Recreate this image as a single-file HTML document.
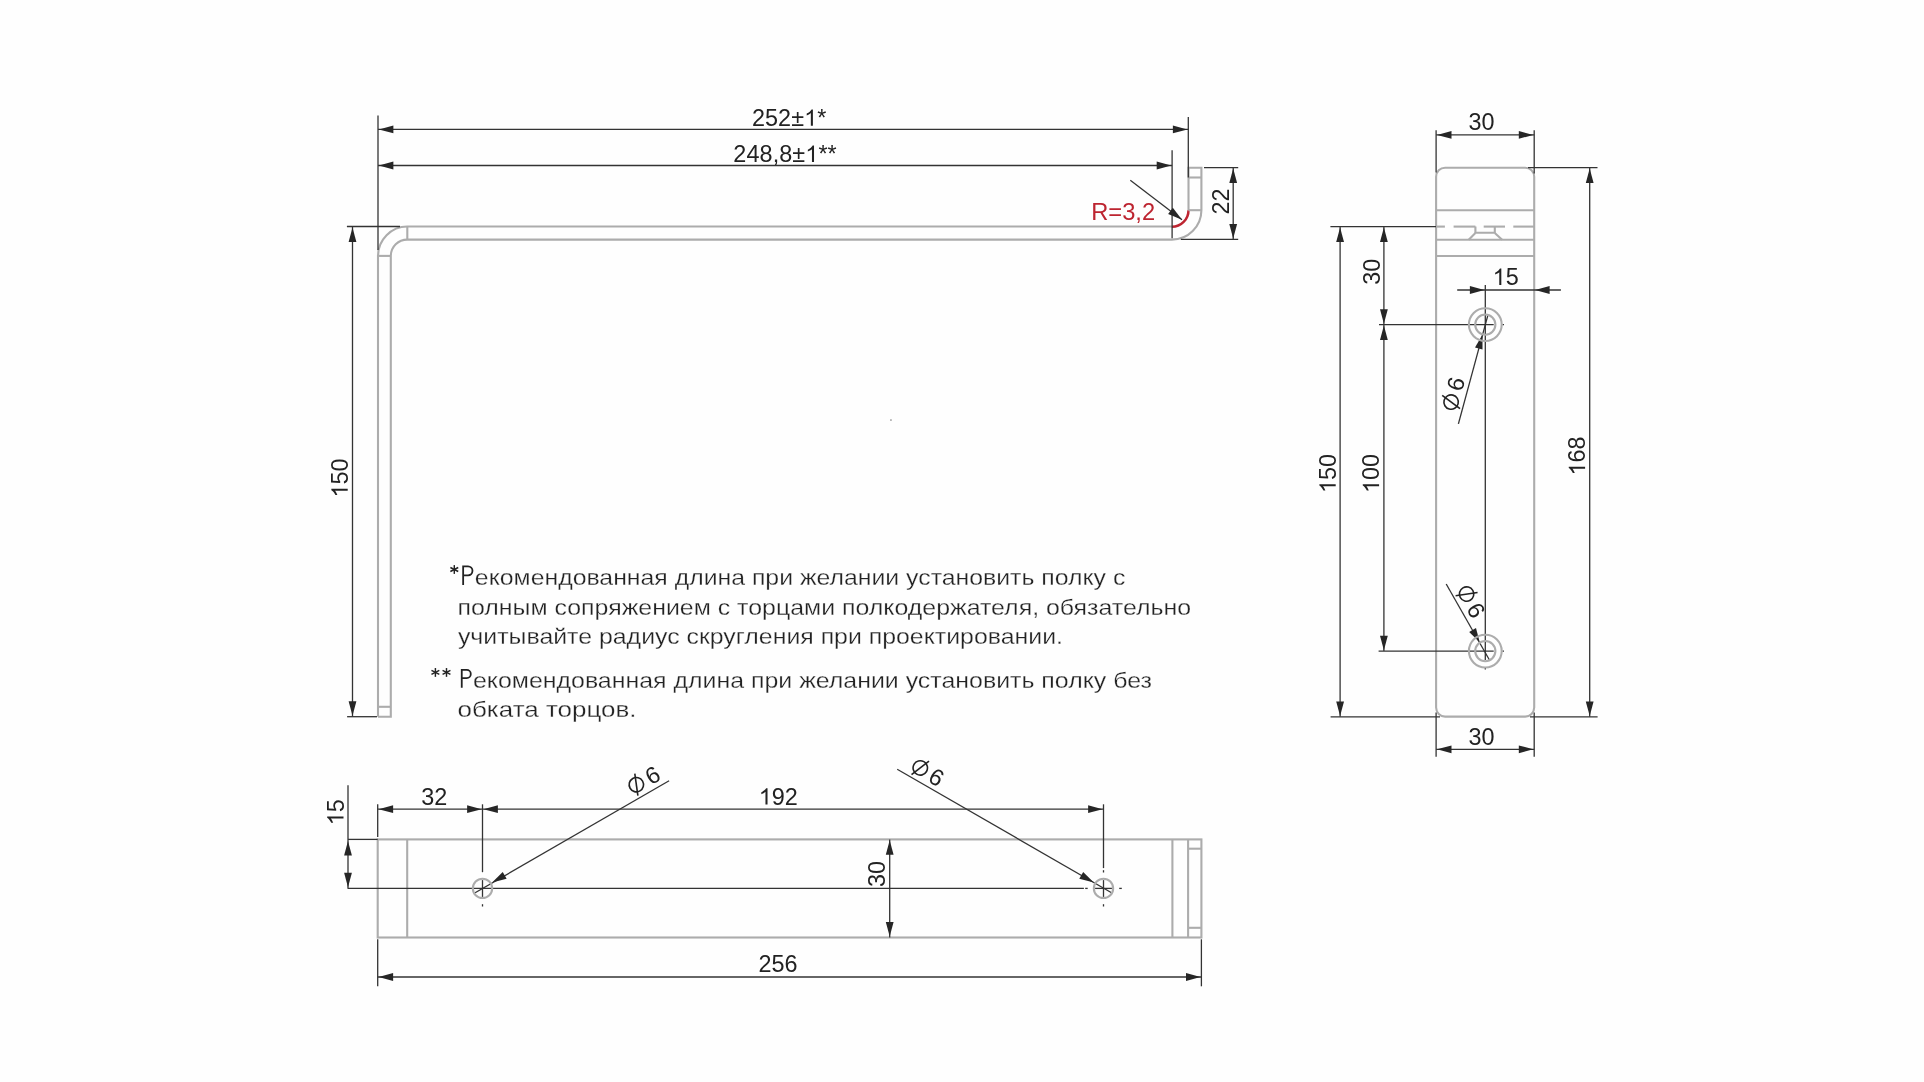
<!DOCTYPE html>
<html><head><meta charset="utf-8"><style>
html,body{margin:0;padding:0;background:#fefefe;}
svg{display:block;font-family:"Liberation Sans",sans-serif;will-change:transform;}
</style></head><body>
<svg width="1924" height="1082" viewBox="0 0 1924 1082">
<rect width="1924" height="1082" fill="#fefefe"/>
<path d="M378.0,716.7 L378.0,255.9 A29.4,29.4 0 0 1 407.3,226.5 L1171.9,226.5" fill="none" stroke="#acacac" stroke-width="2.1"/>
<path d="M1188.5,210.2 L1188.5,167.7 L1201.4,167.7 L1201.4,210.2 A29.5,29.5 0 0 1 1171.9,239.6 L407.3,239.6 A16.5,16.5 0 0 0 390.8,255.9 L390.8,716.7 L378.0,716.7" fill="none" stroke="#acacac" stroke-width="2.1"/>
<path d="M1171.9,226.8 A16.6,16.6 0 0 0 1188.5,210.2" fill="none" stroke="#bd2430" stroke-width="2.5"/>
<line x1="407.30" y1="226.50" x2="407.30" y2="239.60" stroke="#acacac" stroke-width="2.1"/>
<line x1="378.00" y1="255.90" x2="390.80" y2="255.90" stroke="#acacac" stroke-width="2.1"/>
<line x1="378.00" y1="706.80" x2="390.80" y2="706.80" stroke="#acacac" stroke-width="2.1"/>
<line x1="1188.50" y1="177.50" x2="1201.40" y2="177.50" stroke="#acacac" stroke-width="2.1"/>
<line x1="1188.50" y1="210.20" x2="1201.40" y2="210.20" stroke="#acacac" stroke-width="2.1"/>
<line x1="378.00" y1="115.50" x2="378.00" y2="250.00" stroke="#333333" stroke-width="1.3"/>
<line x1="1188.30" y1="117.00" x2="1188.30" y2="177.50" stroke="#333333" stroke-width="1.3"/>
<line x1="1172.10" y1="150.30" x2="1172.10" y2="238.30" stroke="#333333" stroke-width="1.3"/>
<line x1="378.00" y1="129.40" x2="1188.30" y2="129.40" stroke="#333333" stroke-width="1.3"/>
<polygon points="378.90,129.40 393.40,125.50 393.40,133.30" fill="#262626"/>
<polygon points="1187.40,129.40 1172.90,133.30 1172.90,125.50" fill="#262626"/>
<line x1="378.00" y1="165.50" x2="1172.10" y2="165.50" stroke="#333333" stroke-width="1.3"/>
<polygon points="378.90,165.50 393.40,161.60 393.40,169.40" fill="#262626"/>
<polygon points="1171.20,165.50 1156.70,169.40 1156.70,161.60" fill="#262626"/>
<line x1="1204.00" y1="167.70" x2="1238.20" y2="167.70" stroke="#333333" stroke-width="1.3"/>
<line x1="1180.80" y1="239.40" x2="1238.20" y2="239.40" stroke="#333333" stroke-width="1.3"/>
<line x1="1233.20" y1="167.70" x2="1233.20" y2="239.40" stroke="#333333" stroke-width="1.3"/>
<polygon points="1233.20,168.60 1237.10,183.10 1229.30,183.10" fill="#262626"/>
<polygon points="1233.20,238.50 1229.30,224.00 1237.10,224.00" fill="#262626"/>
<line x1="346.90" y1="226.50" x2="400.00" y2="226.50" stroke="#333333" stroke-width="1.3"/>
<line x1="347.10" y1="716.70" x2="377.00" y2="716.70" stroke="#333333" stroke-width="1.3"/>
<line x1="352.50" y1="226.50" x2="352.50" y2="716.70" stroke="#333333" stroke-width="1.3"/>
<polygon points="352.50,227.40 356.40,241.90 348.60,241.90" fill="#262626"/>
<polygon points="352.50,715.80 348.60,701.30 356.40,701.30" fill="#262626"/>
<line x1="1130.30" y1="180.30" x2="1182.00" y2="219.70" stroke="#333333" stroke-width="1.3"/>
<polygon points="1182.00,219.70 1168.10,214.01 1172.83,207.81" fill="#262626"/>
<g transform="translate(751.90,125.80)"><text x="0.00" y="0" font-size="23.4" fill="#222222" letter-spacing="0.1">252±</text><path transform="translate(52.28,0) scale(0.011426,-0.011426)" d="M763,0 L583,0 L583,1114 Q518,1054 412,994 Q306,934 222,903 L222,1073 Q373,1142 486,1240 Q599,1338 646,1430 L763,1430 Z" fill="#222222"/><text x="65.40" y="0" font-size="23.4" fill="#222222" letter-spacing="0.1">*</text></g>
<g transform="translate(733.30,161.90)"><text x="0.00" y="0" font-size="23.4" fill="#222222" letter-spacing="0.1">248,8±</text><path transform="translate(72.00,0) scale(0.011426,-0.011426)" d="M763,0 L583,0 L583,1114 Q518,1054 412,994 Q306,934 222,903 L222,1073 Q373,1142 486,1240 Q599,1338 646,1430 L763,1430 Z" fill="#222222"/><text x="85.11" y="0" font-size="23.4" fill="#222222" letter-spacing="0.1">**</text></g>
<g transform="translate(1228.60,201.60) rotate(-90)"><text x="-13.01" y="0" font-size="23.4" fill="#222222">22</text></g>
<g transform="translate(347.70,477.20) rotate(-90)"><path transform="translate(-20.33,0) scale(0.011426,-0.011426)" d="M763,0 L583,0 L583,1114 Q518,1054 412,994 Q306,934 222,903 L222,1073 Q373,1142 486,1240 Q599,1338 646,1430 L763,1430 Z" fill="#222222"/><text x="-7.32" y="0" font-size="23.4" fill="#222222">50</text></g>
<g transform="translate(1091.20,219.70)"><text x="0.00" y="0" font-size="23.7" fill="#bd2430">R=3,2</text></g>
<rect x="1436.1" y="167.7" width="98.10" height="548.90" rx="9" ry="9" fill="none" stroke="#acacac" stroke-width="2.1"/>
<line x1="1436.10" y1="210.30" x2="1534.20" y2="210.30" stroke="#acacac" stroke-width="2.1"/>
<line x1="1436.10" y1="239.70" x2="1534.20" y2="239.70" stroke="#acacac" stroke-width="2.1"/>
<line x1="1436.10" y1="256.00" x2="1534.20" y2="256.00" stroke="#acacac" stroke-width="2.1"/>
<line x1="1436.20" y1="226.60" x2="1444.90" y2="226.60" stroke="#acacac" stroke-width="2.1"/>
<line x1="1453.60" y1="226.60" x2="1475.40" y2="226.60" stroke="#acacac" stroke-width="2.1"/>
<line x1="1483.70" y1="226.60" x2="1505.00" y2="226.60" stroke="#acacac" stroke-width="2.1"/>
<line x1="1513.30" y1="226.60" x2="1534.10" y2="226.60" stroke="#acacac" stroke-width="2.1"/>
<path d="M1475.4,226.6 L1475.4,232.8 L1494.8,232.8 L1494.8,226.6" fill="none" stroke="#acacac" stroke-width="2.1"/>
<line x1="1475.40" y1="233.00" x2="1468.70" y2="239.70" stroke="#acacac" stroke-width="2.1"/>
<line x1="1494.80" y1="233.00" x2="1502.10" y2="239.70" stroke="#acacac" stroke-width="2.1"/>
<line x1="1436.10" y1="130.20" x2="1436.10" y2="172.50" stroke="#333333" stroke-width="1.3"/>
<line x1="1534.20" y1="130.20" x2="1534.20" y2="173.50" stroke="#333333" stroke-width="1.3"/>
<line x1="1436.10" y1="134.90" x2="1534.20" y2="134.90" stroke="#333333" stroke-width="1.3"/>
<polygon points="1437.00,134.90 1451.50,131.00 1451.50,138.80" fill="#262626"/>
<polygon points="1533.30,134.90 1518.80,138.80 1518.80,131.00" fill="#262626"/>
<g transform="translate(1481.50,130.30)"><text x="-13.00" y="0" font-size="23.4" fill="#222222">30</text></g>
<line x1="1528.00" y1="167.70" x2="1597.50" y2="167.70" stroke="#333333" stroke-width="1.3"/>
<line x1="1530.00" y1="716.80" x2="1597.60" y2="716.80" stroke="#333333" stroke-width="1.3"/>
<line x1="1330.60" y1="716.80" x2="1440.00" y2="716.80" stroke="#333333" stroke-width="1.3"/>
<line x1="1589.70" y1="167.70" x2="1589.70" y2="716.80" stroke="#333333" stroke-width="1.3"/>
<polygon points="1589.70,168.60 1593.60,183.10 1585.80,183.10" fill="#262626"/>
<polygon points="1589.70,715.90 1585.80,701.40 1593.60,701.40" fill="#262626"/>
<g transform="translate(1585.10,455.20) rotate(-90)"><path transform="translate(-20.28,0) scale(0.011426,-0.011426)" d="M763,0 L583,0 L583,1114 Q518,1054 412,994 Q306,934 222,903 L222,1073 Q373,1142 486,1240 Q599,1338 646,1430 L763,1430 Z" fill="#222222"/><text x="-7.27" y="0" font-size="23.4" fill="#222222">68</text></g>
<line x1="1330.40" y1="226.60" x2="1436.00" y2="226.60" stroke="#333333" stroke-width="1.3"/>
<line x1="1340.10" y1="226.60" x2="1340.10" y2="716.80" stroke="#333333" stroke-width="1.3"/>
<polygon points="1340.10,227.50 1344.00,242.00 1336.20,242.00" fill="#262626"/>
<polygon points="1340.10,715.90 1336.20,701.40 1344.00,701.40" fill="#262626"/>
<g transform="translate(1335.70,472.60) rotate(-90)"><path transform="translate(-20.33,0) scale(0.011426,-0.011426)" d="M763,0 L583,0 L583,1114 Q518,1054 412,994 Q306,934 222,903 L222,1073 Q373,1142 486,1240 Q599,1338 646,1430 L763,1430 Z" fill="#222222"/><text x="-7.32" y="0" font-size="23.4" fill="#222222">50</text></g>
<line x1="1383.90" y1="226.60" x2="1383.90" y2="324.60" stroke="#333333" stroke-width="1.3"/>
<polygon points="1383.90,227.50 1387.80,242.00 1380.00,242.00" fill="#262626"/>
<polygon points="1383.90,323.70 1380.00,309.20 1387.80,309.20" fill="#262626"/>
<g transform="translate(1379.80,271.70) rotate(-90)"><text x="-13.00" y="0" font-size="23.4" fill="#222222">30</text></g>
<line x1="1379.00" y1="324.60" x2="1493.70" y2="324.60" stroke="#333333" stroke-width="1.3"/>
<line x1="1502.50" y1="324.60" x2="1504.00" y2="324.60" stroke="#333333" stroke-width="1.3"/>
<line x1="1383.90" y1="324.60" x2="1383.90" y2="651.10" stroke="#333333" stroke-width="1.3"/>
<polygon points="1383.90,325.50 1387.80,340.00 1380.00,340.00" fill="#262626"/>
<polygon points="1383.90,650.20 1380.00,635.70 1387.80,635.70" fill="#262626"/>
<g transform="translate(1379.10,472.60) rotate(-90)"><path transform="translate(-20.33,0) scale(0.011426,-0.011426)" d="M763,0 L583,0 L583,1114 Q518,1054 412,994 Q306,934 222,903 L222,1073 Q373,1142 486,1240 Q599,1338 646,1430 L763,1430 Z" fill="#222222"/><text x="-7.32" y="0" font-size="23.4" fill="#222222">00</text></g>
<line x1="1378.60" y1="651.10" x2="1493.70" y2="651.10" stroke="#333333" stroke-width="1.3"/>
<line x1="1502.50" y1="651.10" x2="1504.00" y2="651.10" stroke="#333333" stroke-width="1.3"/>
<line x1="1485.30" y1="284.90" x2="1485.30" y2="660.00" stroke="#333333" stroke-width="1.3"/>
<line x1="1485.30" y1="667.00" x2="1485.30" y2="669.50" stroke="#333333" stroke-width="1.3"/>
<line x1="1457.20" y1="290.00" x2="1560.90" y2="290.00" stroke="#333333" stroke-width="1.3"/>
<polygon points="1484.40,290.00 1469.90,293.90 1469.90,286.10" fill="#262626"/>
<polygon points="1535.10,290.00 1549.60,286.10 1549.60,293.90" fill="#262626"/>
<g transform="translate(1506.40,284.90)"><path transform="translate(-13.79,0) scale(0.011426,-0.011426)" d="M763,0 L583,0 L583,1114 Q518,1054 412,994 Q306,934 222,903 L222,1073 Q373,1142 486,1240 Q599,1338 646,1430 L763,1430 Z" fill="#222222"/><text x="-0.78" y="0" font-size="23.4" fill="#222222">5</text></g>
<line x1="1436.10" y1="712.50" x2="1436.10" y2="756.70" stroke="#333333" stroke-width="1.3"/>
<line x1="1534.20" y1="712.50" x2="1534.20" y2="756.70" stroke="#333333" stroke-width="1.3"/>
<line x1="1436.10" y1="749.30" x2="1534.20" y2="749.30" stroke="#333333" stroke-width="1.3"/>
<polygon points="1437.00,749.30 1451.50,745.40 1451.50,753.20" fill="#262626"/>
<polygon points="1533.30,749.30 1518.80,753.20 1518.80,745.40" fill="#262626"/>
<g transform="translate(1481.40,744.60)"><text x="-13.00" y="0" font-size="23.4" fill="#222222">30</text></g>
<line x1="1458.40" y1="423.80" x2="1487.70" y2="315.90" stroke="#333333" stroke-width="1.3"/>
<polygon points="1482.55,334.50 1482.53,349.52 1475.00,347.48" fill="#262626"/>
<line x1="1446.20" y1="584.00" x2="1489.60" y2="660.20" stroke="#333333" stroke-width="1.3"/>
<polygon points="1479.80,642.60 1469.20,631.96 1475.97,628.08" fill="#262626"/>
<circle cx="1485.3" cy="324.6" r="16.4" fill="none" stroke="#acacac" stroke-width="2.1"/>
<circle cx="1485.3" cy="324.6" r="10.1" fill="none" stroke="#acacac" stroke-width="2.1"/>
<circle cx="1485.3" cy="651.1" r="16.4" fill="none" stroke="#acacac" stroke-width="2.1"/>
<circle cx="1485.3" cy="651.1" r="10.1" fill="none" stroke="#acacac" stroke-width="2.1"/>
<rect x="377.7" y="839.4" width="823.70" height="98.10" fill="none" stroke="#acacac" stroke-width="2.1"/>
<line x1="407.20" y1="839.40" x2="407.20" y2="937.50" stroke="#acacac" stroke-width="2.1"/>
<line x1="1172.40" y1="839.40" x2="1172.40" y2="937.50" stroke="#acacac" stroke-width="2.1"/>
<line x1="1188.10" y1="839.40" x2="1188.10" y2="937.50" stroke="#acacac" stroke-width="2.1"/>
<line x1="1188.10" y1="848.70" x2="1201.40" y2="848.70" stroke="#acacac" stroke-width="2.1"/>
<line x1="1188.10" y1="927.80" x2="1201.40" y2="927.80" stroke="#acacac" stroke-width="2.1"/>
<line x1="347.70" y1="888.40" x2="1083.90" y2="888.40" stroke="#333333" stroke-width="1.3"/>
<line x1="1085.20" y1="888.40" x2="1087.70" y2="888.40" stroke="#333333" stroke-width="1.3"/>
<line x1="1095.10" y1="888.40" x2="1111.90" y2="888.40" stroke="#333333" stroke-width="1.3"/>
<line x1="1119.20" y1="888.40" x2="1121.80" y2="888.40" stroke="#333333" stroke-width="1.3"/>
<line x1="482.50" y1="804.30" x2="482.50" y2="872.20" stroke="#333333" stroke-width="1.3"/>
<line x1="1103.50" y1="804.30" x2="1103.50" y2="868.10" stroke="#333333" stroke-width="1.3"/>
<line x1="1103.50" y1="870.20" x2="1103.50" y2="872.50" stroke="#333333" stroke-width="1.3"/>
<line x1="482.50" y1="880.10" x2="482.50" y2="896.90" stroke="#333333" stroke-width="1.3"/>
<line x1="482.50" y1="904.20" x2="482.50" y2="906.50" stroke="#333333" stroke-width="1.3"/>
<line x1="1103.50" y1="880.10" x2="1103.50" y2="896.90" stroke="#333333" stroke-width="1.3"/>
<line x1="1103.50" y1="904.20" x2="1103.50" y2="906.50" stroke="#333333" stroke-width="1.3"/>
<line x1="348.00" y1="785.30" x2="348.00" y2="888.40" stroke="#333333" stroke-width="1.3"/>
<polygon points="348.00,840.90 351.90,855.40 344.10,855.40" fill="#262626"/>
<polygon points="348.00,887.20 344.10,872.70 351.90,872.70" fill="#262626"/>
<line x1="348.00" y1="839.40" x2="377.70" y2="839.40" stroke="#333333" stroke-width="1.3"/>
<g transform="translate(343.50,811.40) rotate(-90)"><path transform="translate(-13.79,0) scale(0.011426,-0.011426)" d="M763,0 L583,0 L583,1114 Q518,1054 412,994 Q306,934 222,903 L222,1073 Q373,1142 486,1240 Q599,1338 646,1430 L763,1430 Z" fill="#222222"/><text x="-0.78" y="0" font-size="23.4" fill="#222222">5</text></g>
<line x1="377.70" y1="804.30" x2="377.70" y2="836.90" stroke="#333333" stroke-width="1.3"/>
<line x1="377.70" y1="809.20" x2="482.50" y2="809.20" stroke="#333333" stroke-width="1.3"/>
<polygon points="378.60,809.20 393.10,805.30 393.10,813.10" fill="#262626"/>
<polygon points="481.60,809.20 467.10,813.10 467.10,805.30" fill="#262626"/>
<line x1="482.50" y1="809.20" x2="1103.50" y2="809.20" stroke="#333333" stroke-width="1.3"/>
<polygon points="483.40,809.20 497.90,805.30 497.90,813.10" fill="#262626"/>
<polygon points="1102.60,809.20 1088.10,813.10 1088.10,805.30" fill="#262626"/>
<g transform="translate(434.20,804.50)"><text x="-12.87" y="0" font-size="23.4" fill="#222222">32</text></g>
<g transform="translate(779.00,804.50)"><path transform="translate(-20.20,0) scale(0.011426,-0.011426)" d="M763,0 L583,0 L583,1114 Q518,1054 412,994 Q306,934 222,903 L222,1073 Q373,1142 486,1240 Q599,1338 646,1430 L763,1430 Z" fill="#222222"/><text x="-7.19" y="0" font-size="23.4" fill="#222222">92</text></g>
<line x1="377.70" y1="939.30" x2="377.70" y2="986.30" stroke="#333333" stroke-width="1.3"/>
<line x1="1201.40" y1="939.30" x2="1201.40" y2="986.30" stroke="#333333" stroke-width="1.3"/>
<line x1="377.70" y1="977.00" x2="1201.40" y2="977.00" stroke="#333333" stroke-width="1.3"/>
<polygon points="378.60,977.00 393.10,973.10 393.10,980.90" fill="#262626"/>
<polygon points="1200.50,977.00 1186.00,980.90 1186.00,973.10" fill="#262626"/>
<g transform="translate(778.20,971.90)"><text x="-19.60" y="0" font-size="23.4" fill="#222222">256</text></g>
<line x1="889.70" y1="839.40" x2="889.70" y2="937.50" stroke="#333333" stroke-width="1.3"/>
<polygon points="889.70,840.30 893.60,854.80 885.80,854.80" fill="#262626"/>
<polygon points="889.70,936.60 885.80,922.10 893.60,922.10" fill="#262626"/>
<g transform="translate(885.10,873.90) rotate(-90)"><text x="-13.00" y="0" font-size="23.4" fill="#222222">30</text></g>
<line x1="669.10" y1="780.80" x2="475.10" y2="892.80" stroke="#333333" stroke-width="1.3"/>
<polygon points="492.10,882.60 502.72,871.99 506.61,878.75" fill="#262626"/>
<line x1="897.20" y1="769.20" x2="1111.10" y2="892.50" stroke="#333333" stroke-width="1.3"/>
<polygon points="1093.80,882.60 1079.29,878.73 1083.19,871.98" fill="#262626"/>
<circle cx="482.5" cy="888.4" r="9.65" fill="none" stroke="#acacac" stroke-width="2.1"/>
<circle cx="1103.5" cy="888.4" r="9.65" fill="none" stroke="#acacac" stroke-width="2.1"/>
<g transform="translate(636.34,784.67) rotate(-30.0)"><circle cx="0" cy="0" r="7.2" fill="none" stroke="#222222" stroke-width="1.6"/><line x1="-4.16" y1="10.29" x2="4.16" y2="-10.29" stroke="#222222" stroke-width="1.6"/><text x="12.22" y="8.06" font-size="23.4" fill="#222222">6</text></g>
<g transform="translate(920.27,767.90) rotate(29.96)"><circle cx="0" cy="0" r="7.2" fill="none" stroke="#222222" stroke-width="1.6"/><line x1="-4.16" y1="10.29" x2="4.16" y2="-10.29" stroke="#222222" stroke-width="1.6"/><text x="12.22" y="8.06" font-size="23.4" fill="#222222">6</text></g>
<g transform="translate(1451.10,402.10) rotate(-75.4)"><circle cx="0" cy="0" r="7.2" fill="none" stroke="#222222" stroke-width="1.6"/><line x1="-4.16" y1="10.29" x2="4.16" y2="-10.29" stroke="#222222" stroke-width="1.6"/><text x="12.22" y="8.06" font-size="23.4" fill="#222222">6</text></g>
<g transform="translate(1466.58,594.05) rotate(59.6)"><circle cx="0" cy="0" r="7.2" fill="none" stroke="#222222" stroke-width="1.6"/><line x1="-4.16" y1="10.29" x2="4.16" y2="-10.29" stroke="#222222" stroke-width="1.6"/><text x="12.22" y="8.06" font-size="23.4" fill="#222222">6</text></g>
<text x="474.85" y="585.0" font-size="22.8" fill="#222222" stroke="#fff" stroke-width="0.28" textLength="650.50" lengthAdjust="spacingAndGlyphs">екомендованная длина при желании установить полку с</text>
<text x="457.49" y="615.0" font-size="22.8" fill="#222222" stroke="#fff" stroke-width="0.28" textLength="733.55" lengthAdjust="spacingAndGlyphs">полным сопряжением с торцами полкодержателя, обязательно</text>
<text x="457.94" y="643.8" font-size="22.8" fill="#222222" stroke="#fff" stroke-width="0.28" textLength="605.02" lengthAdjust="spacingAndGlyphs">учитывайте радиус скругления при проектировании.</text>
<text x="472.95" y="687.6" font-size="22.8" fill="#222222" stroke="#fff" stroke-width="0.28" textLength="678.99" lengthAdjust="spacingAndGlyphs">екомендованная длина при желании установить полку без</text>
<text x="457.51" y="717.3" font-size="22.8" fill="#222222" stroke="#fff" stroke-width="0.28" textLength="178.95" lengthAdjust="spacingAndGlyphs">обката торцов.</text>
<path d="M463.15,584.9 V566.4 H468.05 A4.45,4.45 0 0 1 468.05,575.3 H463.15" fill="none" stroke="#222222" stroke-width="1.8"/>
<path d="M461.75,687.8 V669.9 H466.70 A4.10,4.10 0 0 1 466.70,678.1 H461.75" fill="none" stroke="#222222" stroke-width="1.8"/>
<line x1="454.30" y1="565.10" x2="454.30" y2="573.90" stroke="#222222" stroke-width="1.45"/>
<line x1="450.38" y1="567.50" x2="458.22" y2="571.50" stroke="#222222" stroke-width="1.45"/>
<line x1="450.38" y1="571.50" x2="458.22" y2="567.50" stroke="#222222" stroke-width="1.45"/>
<line x1="435.40" y1="668.05" x2="435.40" y2="676.85" stroke="#222222" stroke-width="1.45"/>
<line x1="431.48" y1="670.45" x2="439.32" y2="674.45" stroke="#222222" stroke-width="1.45"/>
<line x1="431.48" y1="674.45" x2="439.32" y2="670.45" stroke="#222222" stroke-width="1.45"/>
<line x1="446.50" y1="668.05" x2="446.50" y2="676.85" stroke="#222222" stroke-width="1.45"/>
<line x1="442.58" y1="670.45" x2="450.42" y2="674.45" stroke="#222222" stroke-width="1.45"/>
<line x1="442.58" y1="674.45" x2="450.42" y2="670.45" stroke="#222222" stroke-width="1.45"/>
<rect x="890.3" y="419.4" width="1.3" height="1.3" fill="#707070"/>
</svg>
</body></html>
